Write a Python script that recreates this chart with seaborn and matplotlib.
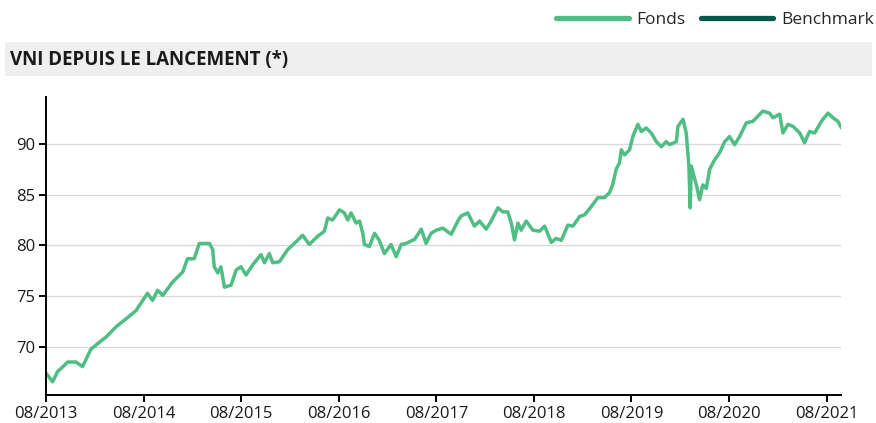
import pandas as pd
import seaborn as sns
import matplotlib
matplotlib.use("Agg")
import matplotlib.pyplot as plt
import matplotlib.dates as mdates
from matplotlib.lines import Line2D
from matplotlib.patches import Rectangle

# VNI du fonds
dates = [
    "2013-08-02", "2013-08-25", "2013-09-12", "2013-10-07", "2013-10-20", "2013-11-20",
    "2013-12-15", "2014-01-15", "2014-02-16", "2014-03-13", "2014-04-19", "2014-05-27",
    "2014-07-03", "2014-08-15", "2014-09-03", "2014-09-22", "2014-10-11", "2014-11-17",
    "2014-12-25", "2015-01-12", "2015-02-06", "2015-02-25", "2015-04-04", "2015-04-16",
    "2015-04-22", "2015-05-05", "2015-05-17", "2015-05-30", "2015-06-24", "2015-07-13",
    "2015-07-31", "2015-08-19", "2015-09-13", "2015-10-14", "2015-10-27", "2015-11-14",
    "2015-11-27", "2015-12-22", "2016-01-22", "2016-02-16", "2016-03-18", "2016-04-12",
    "2016-05-13", "2016-06-07", "2016-06-20", "2016-07-08", "2016-08-03", "2016-08-21",
    "2016-09-03", "2016-09-15", "2016-10-04", "2016-10-17", "2016-10-29", "2016-11-04",
    "2016-11-23", "2016-12-12", "2016-12-30", "2017-01-18", "2017-02-12", "2017-03-03",
    "2017-03-22", "2017-04-09", "2017-05-11", "2017-06-05", "2017-06-23", "2017-07-12",
    "2017-07-31", "2017-08-25", "2017-09-25", "2017-10-20", "2017-11-01", "2017-11-26",
    "2017-12-21", "2018-01-09", "2018-02-03", "2018-02-22", "2018-03-19", "2018-04-06",
    "2018-04-25", "2018-05-08", "2018-05-20", "2018-06-02", "2018-06-14", "2018-07-03",
    "2018-07-28", "2018-08-22", "2018-09-10", "2018-10-05", "2018-10-23", "2018-11-11",
    "2018-12-06", "2018-12-25", "2019-01-19", "2019-02-06", "2019-03-03", "2019-03-28",
    "2019-04-22", "2019-05-11", "2019-05-23", "2019-06-05", "2019-06-17", "2019-06-24",
    "2019-07-06", "2019-07-25", "2019-08-06", "2019-08-25", "2019-09-07", "2019-09-25",
    "2019-10-14", "2019-11-02", "2019-11-21", "2019-12-09", "2019-12-22", "2020-01-16",
    "2020-01-22", "2020-02-10", "2020-02-22", "2020-03-03", "2020-03-08", "2020-03-12",
    "2020-03-21", "2020-03-31", "2020-04-12", "2020-04-24", "2020-05-07", "2020-05-20",
    "2020-06-07", "2020-06-26", "2020-07-15", "2020-08-02", "2020-08-21", "2020-09-09",
    "2020-10-04", "2020-10-29", "2020-11-16", "2020-12-05", "2020-12-30", "2021-01-12",
    "2021-02-06", "2021-02-18", "2021-03-09", "2021-03-28", "2021-04-22", "2021-05-10",
    "2021-05-29", "2021-06-17", "2021-07-12", "2021-08-06", "2021-08-24", "2021-09-12",
    "2021-09-25",
]
vni_fonds = [
    67.4, 66.6, 67.6, 68.2, 68.55, 68.55,
    68.1, 69.8, 70.5, 71.0, 72.0, 72.8,
    73.6, 75.3, 74.6, 75.6, 75.1, 76.4,
    77.4, 78.7, 78.7, 80.2, 80.2, 79.6,
    77.9, 77.3, 77.9, 75.9, 76.1, 77.6,
    77.9, 77.1, 78.1, 79.1, 78.3, 79.2,
    78.3, 78.4, 79.6, 80.2, 81.0, 80.1,
    80.9, 81.4, 82.7, 82.5, 83.5, 83.2,
    82.5, 83.2, 82.2, 82.4, 81.2, 80.1,
    79.9, 81.2, 80.5, 79.2, 80.1, 78.9,
    80.1, 80.2, 80.6, 81.6, 80.2, 81.2,
    81.5, 81.7, 81.1, 82.4, 82.9, 83.2,
    81.9, 82.4, 81.6, 82.4, 83.7, 83.3,
    83.3, 82.2, 80.55, 82.2, 81.5, 82.4,
    81.5, 81.4, 81.9, 80.3, 80.7, 80.5,
    82.0, 81.9, 82.85, 83.0, 83.8, 84.7,
    84.7, 85.2, 86.0, 87.5, 88.1, 89.4,
    88.9, 89.4, 90.7, 91.9, 91.2, 91.55,
    91.05, 90.2, 89.7, 90.2, 89.9, 90.2,
    91.7, 92.4, 91.05, 87.8, 83.7, 87.8,
    86.9, 85.95, 84.5, 85.95, 85.6, 87.5,
    88.4, 89.1, 90.2, 90.7, 89.9, 90.7,
    92.05, 92.2, 92.7, 93.2, 93.0, 92.55,
    92.9, 91.05, 91.9, 91.7, 91.05, 90.1,
    91.2, 91.05, 92.2, 93.0, 92.55, 92.2,
    91.55,
]
y_ticks = [70, 75, 80, 85, 90]
legend_labels = ["Fonds", "Benchmark"]

vert_fonds = "#50BE84"
vert_bench = "#005A4B"

df = pd.DataFrame({"date": pd.to_datetime(dates), "vni": vni_fonds})

sns.set_style("white")
plt.rcParams["font.family"] = ["Open Sans", "DejaVu Sans"]

fig = plt.figure(figsize=(8.76, 4.23), dpi=100)
ax = fig.add_axes([0.0525, 0.066, 0.908, 0.705])

sns.lineplot(data=df, x="date", y="vni", ax=ax, color=vert_fonds, linewidth=2.5)

ax.set_ylim(65.3, 94.6)
ax.set_yticks(y_ticks)
ax.set_xlim(pd.Timestamp("2013-07-31"), df["date"].iloc[-1])
ax.xaxis.set_major_locator(mdates.MonthLocator(bymonth=8))
ax.xaxis.set_major_formatter(mdates.DateFormatter("%m/%Y"))
ax.set_xlabel("")
ax.set_ylabel("")
ax.grid(axis="y", color="#d9d9d9", linewidth=1)
ax.set_axisbelow(True)
for s in ["top", "right"]:
    ax.spines[s].set_visible(False)
for s in ["left", "bottom"]:
    ax.spines[s].set_color("black")
    ax.spines[s].set_linewidth(1.4)
ax.tick_params(axis="both", length=5, width=1.4, color="black", pad=3,
               labelsize=12, labelcolor="#1a1a1a", left=True, bottom=True)

# bandeau de titre
fig.patches.append(Rectangle((5 / 876, 1 - 76 / 423), 867 / 876, 34 / 423,
                             transform=fig.transFigure, facecolor="#efefef",
                             edgecolor="none", zorder=0))
fig.text(10 / 876, 1 - 60 / 423, "VNI DEPUIS LE LANCEMENT (*)", fontsize=13.5,
         fontweight="bold", color="#1a1a1a", va="center", ha="left")

handles = [Line2D([], [], color=vert_fonds, linewidth=3.8),
           Line2D([], [], color=vert_bench, linewidth=3.8)]
fig.legend(handles, legend_labels, loc="upper right",
           bbox_to_anchor=(874 / 876, 1 - 12 / 423), borderaxespad=0, borderpad=0,
           ncol=2, frameon=False, fontsize=12.5, handlelength=4.2,
           handletextpad=0.45, columnspacing=0.85)

fig.savefig("out.png", dpi=100)
